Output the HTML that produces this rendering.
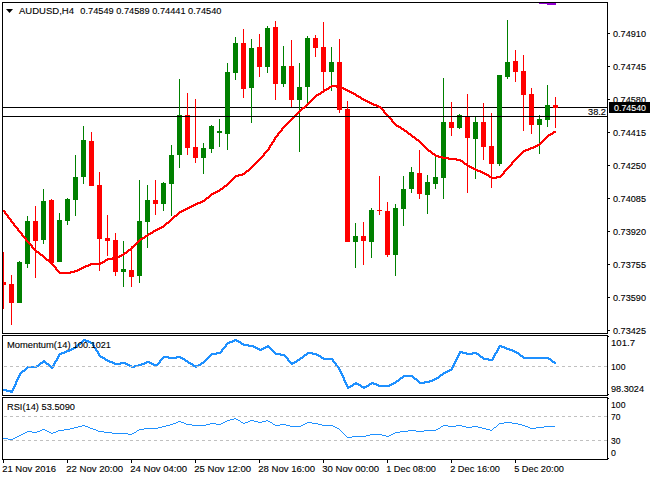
<!DOCTYPE html>
<html><head><meta charset="utf-8"><title>AUDUSD,H4</title>
<style>
html,body{margin:0;padding:0;background:#fff;}
body{width:650px;height:480px;overflow:hidden;}
svg{display:block;}
text{font-family:"Liberation Sans", sans-serif;fill:#000;stroke:#000;stroke-width:0.12px;}
</style></head><body>
<svg width="650" height="480" viewBox="0 0 650 480">
<rect x="0" y="0" width="650" height="480" fill="#ffffff"/>
<g fill="#000" shape-rendering="crispEdges">
<rect x="2" y="2" width="1" height="332"/>
<rect x="607" y="2" width="1" height="332"/>
<rect x="2" y="2" width="606" height="1"/>
<rect x="2" y="333" width="606" height="1"/>
<rect x="2" y="335" width="1" height="61"/>
<rect x="607" y="335" width="1" height="61"/>
<rect x="2" y="335" width="606" height="1"/>
<rect x="2" y="395" width="606" height="1"/>
<rect x="2" y="397" width="1" height="63"/>
<rect x="607" y="397" width="1" height="63"/>
<rect x="2" y="397" width="606" height="1"/>
<rect x="2" y="459" width="606" height="1"/>
<rect x="608" y="336" width="1" height="1"/>
<rect x="608" y="394" width="1" height="1"/>
<rect x="608" y="398" width="1" height="1"/>
<rect x="608" y="458" width="1" height="1"/>
<rect x="3" y="107" width="604" height="1"/>
<rect x="608" y="33" width="2" height="1"/>
<rect x="608" y="66" width="2" height="1"/>
<rect x="608" y="99" width="2" height="1"/>
<rect x="608" y="132" width="2" height="1"/>
<rect x="608" y="165" width="2" height="1"/>
<rect x="608" y="198" width="2" height="1"/>
<rect x="608" y="231" width="2" height="1"/>
<rect x="608" y="264" width="2" height="1"/>
<rect x="608" y="297" width="2" height="1"/>
<rect x="608" y="330" width="2" height="1"/>
<rect x="3" y="460" width="1" height="3"/>
<rect x="67" y="460" width="1" height="3"/>
<rect x="131" y="460" width="1" height="3"/>
<rect x="195" y="460" width="1" height="3"/>
<rect x="259" y="460" width="1" height="3"/>
<rect x="323" y="460" width="1" height="3"/>
<rect x="387" y="460" width="1" height="3"/>
<rect x="451" y="460" width="1" height="3"/>
<rect x="515" y="460" width="1" height="3"/>
</g>
<g shape-rendering="crispEdges">
<rect x="3" y="252" width="1" height="57" fill="#ff0000"/>
<rect x="3" y="282" width="3" height="3" fill="#ff0000"/>
<rect x="11" y="275" width="1" height="50" fill="#ff0000"/>
<rect x="9" y="284" width="5" height="19" fill="#ff0000"/>
<rect x="19" y="261" width="1" height="42" fill="#008000"/>
<rect x="17" y="262" width="5" height="41" fill="#008000"/>
<rect x="27" y="216" width="1" height="52" fill="#008000"/>
<rect x="25" y="221" width="5" height="43" fill="#008000"/>
<rect x="35" y="206" width="1" height="72" fill="#ff0000"/>
<rect x="33" y="221" width="5" height="20" fill="#ff0000"/>
<rect x="43" y="189" width="1" height="55" fill="#008000"/>
<rect x="41" y="201" width="5" height="39" fill="#008000"/>
<rect x="51" y="199" width="1" height="66" fill="#ff0000"/>
<rect x="49" y="200" width="5" height="63" fill="#ff0000"/>
<rect x="59" y="213" width="1" height="49" fill="#008000"/>
<rect x="57" y="220" width="5" height="42" fill="#008000"/>
<rect x="67" y="198" width="1" height="27" fill="#008000"/>
<rect x="65" y="199" width="5" height="22" fill="#008000"/>
<rect x="75" y="155" width="1" height="61" fill="#008000"/>
<rect x="73" y="177" width="5" height="23" fill="#008000"/>
<rect x="83" y="126" width="1" height="58" fill="#008000"/>
<rect x="81" y="140" width="5" height="37" fill="#008000"/>
<rect x="91" y="132" width="1" height="54" fill="#ff0000"/>
<rect x="89" y="141" width="5" height="45" fill="#ff0000"/>
<rect x="99" y="172" width="1" height="99" fill="#ff0000"/>
<rect x="97" y="185" width="5" height="54" fill="#ff0000"/>
<rect x="107" y="215" width="1" height="41" fill="#ff0000"/>
<rect x="105" y="238" width="5" height="3" fill="#ff0000"/>
<rect x="115" y="233" width="1" height="43" fill="#ff0000"/>
<rect x="113" y="240" width="5" height="32" fill="#ff0000"/>
<rect x="123" y="241" width="1" height="46" fill="#008000"/>
<rect x="121" y="269" width="5" height="3" fill="#008000"/>
<rect x="131" y="246" width="1" height="41" fill="#ff0000"/>
<rect x="129" y="270" width="5" height="7" fill="#ff0000"/>
<rect x="139" y="180" width="1" height="103" fill="#008000"/>
<rect x="137" y="221" width="5" height="55" fill="#008000"/>
<rect x="147" y="185" width="1" height="63" fill="#008000"/>
<rect x="145" y="200" width="5" height="22" fill="#008000"/>
<rect x="155" y="180" width="1" height="35" fill="#ff0000"/>
<rect x="153" y="200" width="5" height="4" fill="#ff0000"/>
<rect x="163" y="182" width="1" height="29" fill="#008000"/>
<rect x="161" y="183" width="5" height="21" fill="#008000"/>
<rect x="171" y="145" width="1" height="71" fill="#008000"/>
<rect x="169" y="155" width="5" height="29" fill="#008000"/>
<rect x="179" y="79" width="1" height="89" fill="#008000"/>
<rect x="177" y="115" width="5" height="40" fill="#008000"/>
<rect x="187" y="93" width="1" height="62" fill="#ff0000"/>
<rect x="185" y="115" width="5" height="33" fill="#ff0000"/>
<rect x="195" y="99" width="1" height="64" fill="#ff0000"/>
<rect x="193" y="147" width="5" height="11" fill="#ff0000"/>
<rect x="203" y="143" width="1" height="31" fill="#008000"/>
<rect x="201" y="148" width="5" height="10" fill="#008000"/>
<rect x="211" y="125" width="1" height="28" fill="#008000"/>
<rect x="209" y="126" width="5" height="23" fill="#008000"/>
<rect x="219" y="119" width="1" height="28" fill="#008000"/>
<rect x="217" y="131" width="5" height="2" fill="#008000"/>
<rect x="227" y="63" width="1" height="87" fill="#008000"/>
<rect x="225" y="72" width="5" height="62" fill="#008000"/>
<rect x="235" y="37" width="1" height="43" fill="#008000"/>
<rect x="233" y="43" width="5" height="30" fill="#008000"/>
<rect x="243" y="29" width="1" height="69" fill="#ff0000"/>
<rect x="241" y="43" width="5" height="46" fill="#ff0000"/>
<rect x="251" y="39" width="1" height="84" fill="#008000"/>
<rect x="249" y="48" width="5" height="40" fill="#008000"/>
<rect x="259" y="34" width="1" height="43" fill="#ff0000"/>
<rect x="257" y="47" width="5" height="20" fill="#ff0000"/>
<rect x="267" y="26" width="1" height="47" fill="#008000"/>
<rect x="265" y="28" width="5" height="39" fill="#008000"/>
<rect x="275" y="21" width="1" height="79" fill="#ff0000"/>
<rect x="273" y="27" width="5" height="57" fill="#ff0000"/>
<rect x="283" y="46" width="1" height="41" fill="#008000"/>
<rect x="281" y="66" width="5" height="18" fill="#008000"/>
<rect x="291" y="40" width="1" height="67" fill="#ff0000"/>
<rect x="289" y="66" width="5" height="34" fill="#ff0000"/>
<rect x="299" y="63" width="1" height="89" fill="#008000"/>
<rect x="297" y="87" width="5" height="13" fill="#008000"/>
<rect x="307" y="36" width="1" height="68" fill="#008000"/>
<rect x="305" y="38" width="5" height="49" fill="#008000"/>
<rect x="315" y="35" width="1" height="22" fill="#ff0000"/>
<rect x="313" y="38" width="5" height="10" fill="#ff0000"/>
<rect x="323" y="22" width="1" height="68" fill="#ff0000"/>
<rect x="321" y="47" width="5" height="25" fill="#ff0000"/>
<rect x="331" y="47" width="1" height="44" fill="#008000"/>
<rect x="329" y="62" width="5" height="10" fill="#008000"/>
<rect x="339" y="39" width="1" height="74" fill="#ff0000"/>
<rect x="337" y="62" width="5" height="48" fill="#ff0000"/>
<rect x="347" y="101" width="1" height="141" fill="#ff0000"/>
<rect x="345" y="109" width="5" height="133" fill="#ff0000"/>
<rect x="355" y="223" width="1" height="45" fill="#008000"/>
<rect x="353" y="236" width="5" height="6" fill="#008000"/>
<rect x="363" y="222" width="1" height="43" fill="#ff0000"/>
<rect x="361" y="236" width="5" height="5" fill="#ff0000"/>
<rect x="371" y="208" width="1" height="50" fill="#008000"/>
<rect x="369" y="210" width="5" height="32" fill="#008000"/>
<rect x="379" y="176" width="1" height="39" fill="#ff0000"/>
<rect x="377" y="210" width="5" height="1" fill="#ff0000"/>
<rect x="387" y="202" width="1" height="55" fill="#ff0000"/>
<rect x="385" y="211" width="5" height="44" fill="#ff0000"/>
<rect x="395" y="204" width="1" height="72" fill="#008000"/>
<rect x="393" y="208" width="5" height="47" fill="#008000"/>
<rect x="403" y="176" width="1" height="50" fill="#008000"/>
<rect x="401" y="189" width="5" height="20" fill="#008000"/>
<rect x="411" y="167" width="1" height="26" fill="#008000"/>
<rect x="409" y="172" width="5" height="17" fill="#008000"/>
<rect x="419" y="150" width="1" height="49" fill="#ff0000"/>
<rect x="417" y="173" width="5" height="21" fill="#ff0000"/>
<rect x="427" y="175" width="1" height="39" fill="#008000"/>
<rect x="425" y="182" width="5" height="13" fill="#008000"/>
<rect x="435" y="157" width="1" height="32" fill="#008000"/>
<rect x="433" y="177" width="5" height="7" fill="#008000"/>
<rect x="443" y="78" width="1" height="121" fill="#008000"/>
<rect x="441" y="122" width="5" height="56" fill="#008000"/>
<rect x="451" y="102" width="1" height="34" fill="#ff0000"/>
<rect x="449" y="122" width="5" height="6" fill="#ff0000"/>
<rect x="459" y="114" width="1" height="15" fill="#008000"/>
<rect x="457" y="115" width="5" height="13" fill="#008000"/>
<rect x="467" y="94" width="1" height="99" fill="#ff0000"/>
<rect x="465" y="117" width="5" height="21" fill="#ff0000"/>
<rect x="475" y="117" width="1" height="62" fill="#008000"/>
<rect x="473" y="122" width="5" height="17" fill="#008000"/>
<rect x="483" y="103" width="1" height="57" fill="#ff0000"/>
<rect x="481" y="122" width="5" height="25" fill="#ff0000"/>
<rect x="491" y="113" width="1" height="75" fill="#ff0000"/>
<rect x="489" y="146" width="5" height="18" fill="#ff0000"/>
<rect x="499" y="75" width="1" height="91" fill="#008000"/>
<rect x="497" y="75" width="5" height="89" fill="#008000"/>
<rect x="507" y="20" width="1" height="59" fill="#008000"/>
<rect x="505" y="62" width="5" height="15" fill="#008000"/>
<rect x="515" y="50" width="1" height="32" fill="#ff0000"/>
<rect x="513" y="61" width="5" height="11" fill="#ff0000"/>
<rect x="523" y="55" width="1" height="76" fill="#ff0000"/>
<rect x="521" y="71" width="5" height="24" fill="#ff0000"/>
<rect x="531" y="88" width="1" height="46" fill="#ff0000"/>
<rect x="529" y="94" width="5" height="31" fill="#ff0000"/>
<rect x="539" y="115" width="1" height="39" fill="#008000"/>
<rect x="537" y="119" width="5" height="6" fill="#008000"/>
<rect x="547" y="85" width="1" height="42" fill="#008000"/>
<rect x="545" y="105" width="5" height="15" fill="#008000"/>
<rect x="555" y="97" width="1" height="31" fill="#ff0000"/>
<rect x="553" y="105" width="5" height="3" fill="#ff0000"/>
</g>
<path d="M3 210h2v2h-2zm1 1h2v2h-2zm0 1h2v2h-2zm1 1h2v2h-2zm1 1h2v2h-2zm1 1h2v2h-2zm0 1h2v2h-2zm1 1h2v2h-2zm1 1h2v2h-2zm1 1h2v2h-2zm0 1h2v2h-2zm1 1h2v2h-2zm1 1h2v2h-2zm1 1h2v2h-2zm0 1h2v2h-2zm1 1h2v2h-2zm1 1h2v2h-2zm1 1h2v2h-2zm1 1h2v2h-2zm0 1h2v2h-2zm1 1h2v2h-2zm1 1h2v2h-2zm1 1h2v2h-2zm1 1h2v2h-2zm0 1h2v2h-2zm1 1h2v2h-2zm1 1h2v2h-2zm1 1h2v2h-2zm1 1h2v2h-2zm0 1h2v2h-2zm1 1h2v2h-2zm1 1h2v2h-2zm1 1h2v2h-2zm1 1h2v2h-2zm1 1h2v2h-2zm1 1h2v2h-2zm0 1h2v2h-2zm1 1h2v2h-2zm1 1h2v2h-2zm1 1h2v2h-2zm1 1h2v2h-2zm1 1h2v2h-2zm1 0h2v2h-2zm1 1h2v2h-2zm1 1h2v2h-2zm1 1h2v2h-2zm1 0h2v2h-2zm1 1h2v2h-2zm1 1h2v2h-2zm1 1h2v2h-2zm1 1h2v2h-2zm1 1h2v2h-2zm1 0h2v2h-2zm1 1h2v2h-2zm1 1h2v2h-2zm1 1h2v2h-2zm1 1h2v2h-2zm1 1h2v2h-2zm1 1h2v2h-2zm1 1h2v2h-2zm1 1h2v2h-2zm0 1h2v2h-2zm1 1h2v2h-2zm1 1h2v2h-2zm1 1h2v2h-2zm1 1h2v2h-2zm1 0h2v2h-2zm1 0h2v2h-2zm1 0h2v2h-2zm1 0h2v2h-2zm1 0h2v2h-2zm1 0h2v2h-2zm1 0h2v2h-2zm1 0h2v2h-2zm1 0h2v2h-2zm1 0h2v2h-2zm1 -1h2v2h-2zm1 0h2v2h-2zm1 0h2v2h-2zm1 0h2v2h-2zm1 -1h2v2h-2zm1 0h2v2h-2zm1 0h2v2h-2zm1 -1h2v2h-2zm1 0h2v2h-2zm1 -1h2v2h-2zm1 0h2v2h-2zm1 -1h2v2h-2zm1 0h2v2h-2zm1 -1h2v2h-2zm1 0h2v2h-2zm1 -1h2v2h-2zm1 0h2v2h-2zm1 0h2v2h-2zm1 -1h2v2h-2zm1 0h2v2h-2zm1 -1h2v2h-2zm1 0h2v2h-2zm1 0h2v2h-2zm1 0h2v2h-2zm1 0h2v2h-2zm1 0h2v2h-2zm1 0h2v2h-2zm1 0h2v2h-2zm1 0h2v2h-2zm1 0h2v2h-2zm1 -1h2v2h-2zm1 0h2v2h-2zm1 -1h2v2h-2zm1 0h2v2h-2zm1 -1h2v2h-2zm1 -1h2v2h-2zm1 0h2v2h-2zm1 -1h2v2h-2zm1 0h2v2h-2zm1 0h2v2h-2zm1 0h2v2h-2zm1 0h2v2h-2zm1 -1h2v2h-2zm1 0h2v2h-2zm1 0h2v2h-2zm1 0h2v2h-2zm1 0h2v2h-2zm1 -1h2v2h-2zm1 0h2v2h-2zm1 -1h2v2h-2zm1 0h2v2h-2zm1 -1h2v2h-2zm1 0h2v2h-2zm1 -1h2v2h-2zm1 -1h2v2h-2zm1 0h2v2h-2zm1 -1h2v2h-2zm1 -1h2v2h-2zm1 -1h2v2h-2zm1 0h2v2h-2zm1 -1h2v2h-2zm1 -1h2v2h-2zm1 -1h2v2h-2zm1 -1h2v2h-2zm1 -1h2v2h-2zm1 -1h2v2h-2zm1 -1h2v2h-2zm1 -1h2v2h-2zm1 -1h2v2h-2zm1 -1h2v2h-2zm1 -1h2v2h-2zm1 0h2v2h-2zm1 -1h2v2h-2zm1 0h2v2h-2zm1 -1h2v2h-2zm1 -1h2v2h-2zm1 0h2v2h-2zm1 -1h2v2h-2zm1 -1h2v2h-2zm1 0h2v2h-2zm1 -1h2v2h-2zm1 0h2v2h-2zm1 -1h2v2h-2zm1 -1h2v2h-2zm1 0h2v2h-2zm1 -1h2v2h-2zm1 0h2v2h-2zm1 -1h2v2h-2zm1 0h2v2h-2zm1 -1h2v2h-2zm1 0h2v2h-2zm1 -1h2v2h-2zm1 0h2v2h-2zm1 -1h2v2h-2zm1 -1h2v2h-2zm1 -1h2v2h-2zm1 -1h2v2h-2zm1 0h2v2h-2zm1 -1h2v2h-2zm1 -1h2v2h-2zm1 -1h2v2h-2zm1 -1h2v2h-2zm1 -1h2v2h-2zm1 -1h2v2h-2zm1 -1h2v2h-2zm1 0h2v2h-2zm1 -1h2v2h-2zm1 -1h2v2h-2zm1 -1h2v2h-2zm1 -1h2v2h-2zm1 0h2v2h-2zm1 -1h2v2h-2zm1 0h2v2h-2zm1 -1h2v2h-2zm1 0h2v2h-2zm1 -1h2v2h-2zm1 0h2v2h-2zm1 -1h2v2h-2zm1 0h2v2h-2zm1 -1h2v2h-2zm1 0h2v2h-2zm1 -1h2v2h-2zm1 0h2v2h-2zm1 -1h2v2h-2zm1 0h2v2h-2zm1 -1h2v2h-2zm1 0h2v2h-2zm1 -1h2v2h-2zm1 0h2v2h-2zm1 0h2v2h-2zm1 -1h2v2h-2zm1 0h2v2h-2zm1 -1h2v2h-2zm1 0h2v2h-2zm1 -1h2v2h-2zm1 -1h2v2h-2zm1 -1h2v2h-2zm1 0h2v2h-2zm1 -1h2v2h-2zm1 -1h2v2h-2zm1 -1h2v2h-2zm1 -1h2v2h-2zm1 0h2v2h-2zm1 -1h2v2h-2zm1 0h2v2h-2zm1 -1h2v2h-2zm1 0h2v2h-2zm1 -1h2v2h-2zm1 0h2v2h-2zm1 -1h2v2h-2zm1 -1h2v2h-2zm1 0h2v2h-2zm1 -1h2v2h-2zm1 -1h2v2h-2zm1 -1h2v2h-2zm1 0h2v2h-2zm1 -1h2v2h-2zm1 -1h2v2h-2zm1 -1h2v2h-2zm1 -1h2v2h-2zm1 -1h2v2h-2zm1 -1h2v2h-2zm1 -1h2v2h-2zm1 -1h2v2h-2zm1 -1h2v2h-2zm1 -1h2v2h-2zm1 0h2v2h-2zm1 0h2v2h-2zm1 -1h2v2h-2zm1 0h2v2h-2zm1 0h2v2h-2zm1 0h2v2h-2zm1 -1h2v2h-2zm1 0h2v2h-2zm1 -1h2v2h-2zm1 -1h2v2h-2zm1 -1h2v2h-2zm1 0h2v2h-2zm1 -1h2v2h-2zm1 -1h2v2h-2zm1 -1h2v2h-2zm1 -1h2v2h-2zm1 -1h2v2h-2zm1 -1h2v2h-2zm1 -1h2v2h-2zm1 -1h2v2h-2zm1 -1h2v2h-2zm1 -1h2v2h-2zm1 -1h2v2h-2zm1 -1h2v2h-2zm1 -1h2v2h-2zm1 -1h2v2h-2zm1 -1h2v2h-2zm1 -1h2v2h-2zm0 -1h2v2h-2zm1 -1h2v2h-2zm1 -1h2v2h-2zm1 -1h2v2h-2zm1 -1h2v2h-2zm1 -1h2v2h-2zm0 -1h2v2h-2zm1 -1h2v2h-2zm0 -1h2v2h-2zm1 -1h2v2h-2zm1 -1h2v2h-2zm0 -1h2v2h-2zm1 -1h2v2h-2zm1 -1h2v2h-2zm0 -1h2v2h-2zm1 -1h2v2h-2zm0 -1h2v2h-2zm1 -1h2v2h-2zm1 -1h2v2h-2zm1 -1h2v2h-2zm0 -1h2v2h-2zm1 -1h2v2h-2zm1 -1h2v2h-2zm1 -1h2v2h-2zm1 -1h2v2h-2zm0 -1h2v2h-2zm1 -1h2v2h-2zm1 -1h2v2h-2zm1 -1h2v2h-2zm1 -1h2v2h-2zm1 -1h2v2h-2zm1 -1h2v2h-2zm1 -1h2v2h-2zm1 -1h2v2h-2zm1 -1h2v2h-2zm1 -1h2v2h-2zm1 -1h2v2h-2zm1 -1h2v2h-2zm1 -1h2v2h-2zm1 -1h2v2h-2zm1 -1h2v2h-2zm1 -1h2v2h-2zm1 -1h2v2h-2zm1 -1h2v2h-2zm1 -1h2v2h-2zm1 -1h2v2h-2zm1 -1h2v2h-2zm1 0h2v2h-2zm1 -1h2v2h-2zm1 -1h2v2h-2zm1 -1h2v2h-2zm1 -1h2v2h-2zm1 -1h2v2h-2zm1 -1h2v2h-2zm1 -1h2v2h-2zm1 -1h2v2h-2zm1 -1h2v2h-2zm1 -1h2v2h-2zm1 -1h2v2h-2zm1 -1h2v2h-2zm1 -1h2v2h-2zm1 0h2v2h-2zm1 -1h2v2h-2zm1 0h2v2h-2zm1 -1h2v2h-2zm1 -1h2v2h-2zm1 0h2v2h-2zm1 -1h2v2h-2zm1 -1h2v2h-2zm1 0h2v2h-2zm1 -1h2v2h-2zm1 0h2v2h-2zm1 -1h2v2h-2zm1 -1h2v2h-2zm1 0h2v2h-2zm1 -1h2v2h-2zm1 0h2v2h-2zm1 0h2v2h-2zm1 0h2v2h-2zm1 0h2v2h-2zm1 1h2v2h-2zm1 0h2v2h-2zm1 0h2v2h-2zm1 0h2v2h-2zm1 0h2v2h-2zm1 1h2v2h-2zm1 0h2v2h-2zm1 1h2v2h-2zm1 0h2v2h-2zm1 1h2v2h-2zm1 0h2v2h-2zm1 1h2v2h-2zm1 0h2v2h-2zm1 1h2v2h-2zm1 0h2v2h-2zm1 1h2v2h-2zm1 0h2v2h-2zm1 1h2v2h-2zm1 0h2v2h-2zm1 1h2v2h-2zm1 1h2v2h-2zm1 0h2v2h-2zm1 1h2v2h-2zm1 0h2v2h-2zm1 1h2v2h-2zm1 1h2v2h-2zm1 0h2v2h-2zm1 1h2v2h-2zm1 0h2v2h-2zm1 1h2v2h-2zm1 0h2v2h-2zm1 1h2v2h-2zm1 0h2v2h-2zm1 1h2v2h-2zm1 0h2v2h-2zm1 1h2v2h-2zm1 0h2v2h-2zm1 1h2v2h-2zm1 0h2v2h-2zm1 0h2v2h-2zm1 1h2v2h-2zm1 0h2v2h-2zm1 1h2v2h-2zm1 0h2v2h-2zm1 1h2v2h-2zm1 1h2v2h-2zm1 1h2v2h-2zm1 1h2v2h-2zm0 1h2v2h-2zm1 1h2v2h-2zm1 1h2v2h-2zm1 1h2v2h-2zm1 1h2v2h-2zm1 1h2v2h-2zm1 1h2v2h-2zm1 1h2v2h-2zm1 1h2v2h-2zm0 1h2v2h-2zm1 1h2v2h-2zm1 1h2v2h-2zm1 1h2v2h-2zm1 1h2v2h-2zm1 1h2v2h-2zm1 0h2v2h-2zm1 1h2v2h-2zm1 0h2v2h-2zm1 1h2v2h-2zm1 1h2v2h-2zm1 0h2v2h-2zm1 1h2v2h-2zm1 1h2v2h-2zm1 0h2v2h-2zm1 1h2v2h-2zm1 1h2v2h-2zm1 1h2v2h-2zm1 0h2v2h-2zm1 1h2v2h-2zm1 1h2v2h-2zm1 1h2v2h-2zm1 0h2v2h-2zm1 1h2v2h-2zm1 1h2v2h-2zm1 1h2v2h-2zm1 0h2v2h-2zm1 1h2v2h-2zm1 1h2v2h-2zm1 1h2v2h-2zm1 1h2v2h-2zm1 1h2v2h-2zm1 1h2v2h-2zm1 1h2v2h-2zm1 1h2v2h-2zm1 1h2v2h-2zm1 1h2v2h-2zm1 1h2v2h-2zm1 0h2v2h-2zm1 1h2v2h-2zm1 1h2v2h-2zm1 1h2v2h-2zm1 0h2v2h-2zm1 1h2v2h-2zm1 1h2v2h-2zm1 0h2v2h-2zm1 0h2v2h-2zm1 1h2v2h-2zm1 0h2v2h-2zm1 0h2v2h-2zm1 0h2v2h-2zm1 1h2v2h-2zm1 0h2v2h-2zm1 0h2v2h-2zm1 0h2v2h-2zm1 0h2v2h-2zm1 0h2v2h-2zm1 1h2v2h-2zm1 0h2v2h-2zm1 0h2v2h-2zm1 0h2v2h-2zm1 0h2v2h-2zm1 0h2v2h-2zm1 0h2v2h-2zm1 0h2v2h-2zm1 1h2v2h-2zm1 0h2v2h-2zm1 0h2v2h-2zm1 0h2v2h-2zm1 1h2v2h-2zm1 0h2v2h-2zm1 1h2v2h-2zm1 1h2v2h-2zm1 1h2v2h-2zm1 0h2v2h-2zm1 1h2v2h-2zm1 1h2v2h-2zm1 0h2v2h-2zm1 1h2v2h-2zm1 0h2v2h-2zm1 1h2v2h-2zm1 0h2v2h-2zm1 1h2v2h-2zm1 0h2v2h-2zm1 1h2v2h-2zm1 0h2v2h-2zm1 1h2v2h-2zm1 0h2v2h-2zm1 0h2v2h-2zm1 1h2v2h-2zm1 0h2v2h-2zm1 1h2v2h-2zm1 0h2v2h-2zm1 1h2v2h-2zm1 0h2v2h-2zm1 1h2v2h-2zm1 0h2v2h-2zm1 1h2v2h-2zm1 1h2v2h-2zm1 0h2v2h-2zm1 1h2v2h-2zm1 0h2v2h-2zm1 0h2v2h-2zm1 0h2v2h-2zm1 0h2v2h-2zm1 -1h2v2h-2zm1 0h2v2h-2zm1 0h2v2h-2zm1 0h2v2h-2zm1 -1h2v2h-2zm1 -1h2v2h-2zm1 -1h2v2h-2zm1 -1h2v2h-2zm0 -1h2v2h-2zm1 -1h2v2h-2zm1 -1h2v2h-2zm1 -1h2v2h-2zm1 -1h2v2h-2zm1 -1h2v2h-2zm1 -1h2v2h-2zm1 -1h2v2h-2zm1 -1h2v2h-2zm0 -1h2v2h-2zm1 -1h2v2h-2zm1 -1h2v2h-2zm1 -1h2v2h-2zm1 -1h2v2h-2zm1 -1h2v2h-2zm1 -1h2v2h-2zm1 -1h2v2h-2zm1 -1h2v2h-2zm1 -1h2v2h-2zm1 -1h2v2h-2zm1 -1h2v2h-2zm1 -1h2v2h-2zm1 0h2v2h-2zm1 -1h2v2h-2zm1 0h2v2h-2zm1 0h2v2h-2zm1 -1h2v2h-2zm1 0h2v2h-2zm1 -1h2v2h-2zm1 0h2v2h-2zm1 0h2v2h-2zm1 -1h2v2h-2zm1 0h2v2h-2zm1 -1h2v2h-2zm1 0h2v2h-2zm1 -1h2v2h-2zm1 0h2v2h-2zm1 -1h2v2h-2zm1 -1h2v2h-2zm1 -1h2v2h-2zm1 -1h2v2h-2zm1 -1h2v2h-2zm1 -1h2v2h-2zm1 -1h2v2h-2zm1 -1h2v2h-2zm1 -1h2v2h-2zm1 -1h2v2h-2zm1 0h2v2h-2zm1 -1h2v2h-2zm1 0h2v2h-2zm1 -1h2v2h-2zm1 -1h2v2h-2zm1 0h2v2h-2z" fill="#ff0000" shape-rendering="crispEdges"/>
<rect x="3" y="116" width="604" height="1" fill="#000" shape-rendering="crispEdges"/>
<path d="M3 389h2v2h-2zm1 0h2v2h-2zm1 0h2v2h-2zm1 1h2v2h-2zm1 0h2v2h-2zm1 0h2v2h-2zm1 0h2v2h-2zm1 1h2v2h-2zm1 0h2v2h-2zm0 -1h2v2h-2zm1 -1h2v2h-2zm0 -1h2v2h-2zm1 -1h2v2h-2zm0 -1h2v2h-2zm1 -1h2v2h-2zm0 -1h2v2h-2zm1 -1h2v2h-2zm0 -1h2v2h-2zm0 -1h2v2h-2zm1 -1h2v2h-2zm0 -1h2v2h-2zm1 -1h2v2h-2zm0 -1h2v2h-2zm1 -1h2v2h-2zm0 -1h2v2h-2zm1 -1h2v2h-2zm0 -1h2v2h-2zm1 -1h2v2h-2zm1 -1h2v2h-2zm1 -1h2v2h-2zm1 0h2v2h-2zm1 -1h2v2h-2zm1 -1h2v2h-2zm1 -1h2v2h-2zm1 -1h2v2h-2zm1 0h2v2h-2zm1 0h2v2h-2zm1 0h2v2h-2zm1 0h2v2h-2zm1 0h2v2h-2zm1 0h2v2h-2zm1 0h2v2h-2zm1 0h2v2h-2zm1 -1h2v2h-2zm1 0h2v2h-2zm1 -1h2v2h-2zm1 -1h2v2h-2zm1 -1h2v2h-2zm1 0h2v2h-2zm1 -1h2v2h-2zm1 -1h2v2h-2zm1 1h2v2h-2zm1 1h2v2h-2zm1 1h2v2h-2zm1 0h2v2h-2zm1 1h2v2h-2zm1 1h2v2h-2zm1 1h2v2h-2zm1 1h2v2h-2zm1 -1h2v2h-2zm0 -1h2v2h-2zm1 -1h2v2h-2zm0 -1h2v2h-2zm1 -1h2v2h-2zm0 -1h2v2h-2zm1 -1h2v2h-2zm1 -1h2v2h-2zm0 -1h2v2h-2zm1 -1h2v2h-2zm0 -1h2v2h-2zm1 -1h2v2h-2zm0 -1h2v2h-2zm1 -1h2v2h-2zm1 0h2v2h-2zm1 -1h2v2h-2zm1 0h2v2h-2zm1 0h2v2h-2zm1 -1h2v2h-2zm1 0h2v2h-2zm1 -1h2v2h-2zm1 0h2v2h-2zm1 0h2v2h-2zm1 -1h2v2h-2zm1 0h2v2h-2zm1 -1h2v2h-2zm1 0h2v2h-2zm1 -1h2v2h-2zm1 0h2v2h-2zm1 -1h2v2h-2zm1 -1h2v2h-2zm1 -1h2v2h-2zm1 -1h2v2h-2zm1 0h2v2h-2zm1 -1h2v2h-2zm1 -1h2v2h-2zm1 -1h2v2h-2zm1 -1h2v2h-2zm1 0h2v2h-2zm1 1h2v2h-2zm1 0h2v2h-2zm1 0h2v2h-2zm1 1h2v2h-2zm1 0h2v2h-2zm1 1h2v2h-2zm1 0h2v2h-2zm1 1h2v2h-2zm0 1h2v2h-2zm1 1h2v2h-2zm0 1h2v2h-2zm1 1h2v2h-2zm1 1h2v2h-2zm0 1h2v2h-2zm1 1h2v2h-2zm1 1h2v2h-2zm0 1h2v2h-2zm1 1h2v2h-2zm0 1h2v2h-2zm1 1h2v2h-2zm1 1h2v2h-2zm1 0h2v2h-2zm1 1h2v2h-2zm1 0h2v2h-2zm1 1h2v2h-2zm1 1h2v2h-2zm1 0h2v2h-2zm1 1h2v2h-2zm1 0h2v2h-2zm1 1h2v2h-2zm1 0h2v2h-2zm1 0h2v2h-2zm1 1h2v2h-2zm1 0h2v2h-2zm1 1h2v2h-2zm1 0h2v2h-2zm1 0h2v2h-2zm1 0h2v2h-2zm1 0h2v2h-2zm1 0h2v2h-2zm1 -1h2v2h-2zm1 0h2v2h-2zm1 0h2v2h-2zm1 0h2v2h-2zm1 0h2v2h-2zm1 1h2v2h-2zm1 0h2v2h-2zm1 1h2v2h-2zm1 0h2v2h-2zm1 1h2v2h-2zm1 0h2v2h-2zm1 1h2v2h-2zm1 0h2v2h-2zm1 0h2v2h-2zm1 -1h2v2h-2zm1 0h2v2h-2zm1 0h2v2h-2zm1 0h2v2h-2zm1 -1h2v2h-2zm1 0h2v2h-2zm1 0h2v2h-2zm1 -1h2v2h-2zm1 0h2v2h-2zm1 0h2v2h-2zm1 -1h2v2h-2zm1 0h2v2h-2zm1 -1h2v2h-2zm1 0h2v2h-2zm1 0h2v2h-2zm1 1h2v2h-2zm1 0h2v2h-2zm1 1h2v2h-2zm1 0h2v2h-2zm1 1h2v2h-2zm1 0h2v2h-2zm1 1h2v2h-2zm1 -1h2v2h-2zm1 -1h2v2h-2zm1 -1h2v2h-2zm1 -1h2v2h-2zm0 -1h2v2h-2zm1 -1h2v2h-2zm1 -1h2v2h-2zm1 -1h2v2h-2zm1 -1h2v2h-2zm1 0h2v2h-2zm1 0h2v2h-2zm1 0h2v2h-2zm1 0h2v2h-2zm1 1h2v2h-2zm1 0h2v2h-2zm1 0h2v2h-2zm1 0h2v2h-2zm1 0h2v2h-2zm1 0h2v2h-2zm1 0h2v2h-2zm1 0h2v2h-2zm1 -1h2v2h-2zm1 0h2v2h-2zm1 0h2v2h-2zm1 0h2v2h-2zm1 1h2v2h-2zm1 0h2v2h-2zm1 1h2v2h-2zm1 0h2v2h-2zm1 1h2v2h-2zm1 1h2v2h-2zm1 0h2v2h-2zm1 1h2v2h-2zm1 1h2v2h-2zm1 0h2v2h-2zm1 1h2v2h-2zm1 0h2v2h-2zm1 1h2v2h-2zm1 1h2v2h-2zm1 0h2v2h-2zm1 1h2v2h-2zm1 -1h2v2h-2zm1 0h2v2h-2zm1 -1h2v2h-2zm1 0h2v2h-2zm1 -1h2v2h-2zm1 -1h2v2h-2zm1 0h2v2h-2zm1 -1h2v2h-2zm1 -1h2v2h-2zm1 -1h2v2h-2zm1 -1h2v2h-2zm1 -1h2v2h-2zm1 -1h2v2h-2zm1 -1h2v2h-2zm1 -1h2v2h-2zm1 -1h2v2h-2zm1 0h2v2h-2zm1 0h2v2h-2zm1 0h2v2h-2zm1 0h2v2h-2zm1 -1h2v2h-2zm1 0h2v2h-2zm1 0h2v2h-2zm1 0h2v2h-2zm1 -1h2v2h-2zm1 -1h2v2h-2zm0 -1h2v2h-2zm1 -1h2v2h-2zm1 -1h2v2h-2zm1 -1h2v2h-2zm1 -1h2v2h-2zm0 -1h2v2h-2zm1 -1h2v2h-2zm1 -1h2v2h-2zm1 0h2v2h-2zm1 -1h2v2h-2zm1 0h2v2h-2zm1 0h2v2h-2zm1 -1h2v2h-2zm1 0h2v2h-2zm1 -1h2v2h-2zm1 0h2v2h-2zm1 1h2v2h-2zm1 0h2v2h-2zm1 1h2v2h-2zm1 0h2v2h-2zm1 1h2v2h-2zm1 1h2v2h-2zm1 0h2v2h-2zm1 1h2v2h-2zm1 0h2v2h-2zm1 0h2v2h-2zm1 0h2v2h-2zm1 0h2v2h-2zm1 1h2v2h-2zm1 0h2v2h-2zm1 0h2v2h-2zm1 0h2v2h-2zm1 0h2v2h-2zm1 1h2v2h-2zm1 0h2v2h-2zm1 1h2v2h-2zm1 0h2v2h-2zm1 1h2v2h-2zm1 0h2v2h-2zm1 1h2v2h-2zm1 0h2v2h-2zm1 -1h2v2h-2zm1 0h2v2h-2zm1 -1h2v2h-2zm1 0h2v2h-2zm1 -1h2v2h-2zm1 0h2v2h-2zm1 -1h2v2h-2zm1 1h2v2h-2zm1 1h2v2h-2zm1 1h2v2h-2zm1 1h2v2h-2zm1 1h2v2h-2zm1 1h2v2h-2zm1 1h2v2h-2zm1 1h2v2h-2zm1 0h2v2h-2zm1 0h2v2h-2zm1 0h2v2h-2zm1 0h2v2h-2zm1 1h2v2h-2zm1 0h2v2h-2zm1 0h2v2h-2zm1 0h2v2h-2zm1 1h2v2h-2zm1 1h2v2h-2zm1 1h2v2h-2zm1 1h2v2h-2zm0 1h2v2h-2zm1 1h2v2h-2zm1 1h2v2h-2zm1 1h2v2h-2zm1 1h2v2h-2zm1 -1h2v2h-2zm1 0h2v2h-2zm1 -1h2v2h-2zm1 0h2v2h-2zm1 -1h2v2h-2zm1 -1h2v2h-2zm1 0h2v2h-2zm1 -1h2v2h-2zm1 -1h2v2h-2zm1 0h2v2h-2zm1 -1h2v2h-2zm1 -1h2v2h-2zm1 -1h2v2h-2zm1 0h2v2h-2zm1 -1h2v2h-2zm1 -1h2v2h-2zm1 0h2v2h-2zm1 0h2v2h-2zm1 0h2v2h-2zm1 0h2v2h-2zm1 1h2v2h-2zm1 0h2v2h-2zm1 0h2v2h-2zm1 0h2v2h-2zm1 1h2v2h-2zm1 0h2v2h-2zm1 1h2v2h-2zm1 0h2v2h-2zm1 1h2v2h-2zm1 1h2v2h-2zm1 0h2v2h-2zm1 1h2v2h-2zm1 0h2v2h-2zm1 0h2v2h-2zm1 0h2v2h-2zm1 0h2v2h-2zm1 0h2v2h-2zm1 0h2v2h-2zm1 0h2v2h-2zm1 0h2v2h-2zm1 1h2v2h-2zm0 1h2v2h-2zm1 1h2v2h-2zm1 1h2v2h-2zm1 1h2v2h-2zm0 1h2v2h-2zm1 1h2v2h-2zm1 1h2v2h-2zm1 1h2v2h-2zm0 1h2v2h-2zm1 1h2v2h-2zm0 1h2v2h-2zm1 1h2v2h-2zm0 1h2v2h-2zm1 1h2v2h-2zm0 1h2v2h-2zm1 1h2v2h-2zm0 1h2v2h-2zm1 1h2v2h-2zm0 1h2v2h-2zm0 1h2v2h-2zm1 1h2v2h-2zm0 1h2v2h-2zm1 1h2v2h-2zm0 1h2v2h-2zm1 1h2v2h-2zm0 1h2v2h-2zm1 1h2v2h-2zm0 1h2v2h-2zm1 -1h2v2h-2zm1 0h2v2h-2zm1 -1h2v2h-2zm1 0h2v2h-2zm1 -1h2v2h-2zm1 -1h2v2h-2zm1 0h2v2h-2zm1 -1h2v2h-2zm1 1h2v2h-2zm1 0h2v2h-2zm1 1h2v2h-2zm1 0h2v2h-2zm1 1h2v2h-2zm1 1h2v2h-2zm1 0h2v2h-2zm1 1h2v2h-2zm1 -1h2v2h-2zm1 0h2v2h-2zm1 -1h2v2h-2zm1 0h2v2h-2zm1 -1h2v2h-2zm1 -1h2v2h-2zm1 0h2v2h-2zm1 -1h2v2h-2zm1 0h2v2h-2zm1 1h2v2h-2zm1 0h2v2h-2zm1 0h2v2h-2zm1 1h2v2h-2zm1 0h2v2h-2zm1 1h2v2h-2zm1 0h2v2h-2zm1 0h2v2h-2zm1 0h2v2h-2zm1 0h2v2h-2zm1 0h2v2h-2zm1 0h2v2h-2zm1 0h2v2h-2zm1 0h2v2h-2zm1 0h2v2h-2zm1 0h2v2h-2zm1 -1h2v2h-2zm1 0h2v2h-2zm1 -1h2v2h-2zm1 0h2v2h-2zm1 -1h2v2h-2zm1 0h2v2h-2zm1 -1h2v2h-2zm1 -1h2v2h-2zm1 0h2v2h-2zm1 -1h2v2h-2zm1 -1h2v2h-2zm1 -1h2v2h-2zm1 0h2v2h-2zm1 -1h2v2h-2zm1 -1h2v2h-2zm1 0h2v2h-2zm1 0h2v2h-2zm1 0h2v2h-2zm1 0h2v2h-2zm1 0h2v2h-2zm1 0h2v2h-2zm1 0h2v2h-2zm1 0h2v2h-2zm1 1h2v2h-2zm1 1h2v2h-2zm1 1h2v2h-2zm1 0h2v2h-2zm1 1h2v2h-2zm1 1h2v2h-2zm1 1h2v2h-2zm1 1h2v2h-2zm1 0h2v2h-2zm1 0h2v2h-2zm1 0h2v2h-2zm1 0h2v2h-2zm1 -1h2v2h-2zm1 0h2v2h-2zm1 0h2v2h-2zm1 0h2v2h-2zm1 0h2v2h-2zm1 -1h2v2h-2zm1 0h2v2h-2zm1 0h2v2h-2zm1 -1h2v2h-2zm1 0h2v2h-2zm1 -1h2v2h-2zm1 0h2v2h-2zm1 -1h2v2h-2zm1 0h2v2h-2zm1 -1h2v2h-2zm1 -1h2v2h-2zm1 -1h2v2h-2zm1 0h2v2h-2zm1 -1h2v2h-2zm1 -1h2v2h-2zm1 0h2v2h-2zm1 -1h2v2h-2zm1 0h2v2h-2zm1 -1h2v2h-2zm1 0h2v2h-2zm1 -1h2v2h-2zm1 0h2v2h-2zm1 -1h2v2h-2zm0 -1h2v2h-2zm1 -1h2v2h-2zm0 -1h2v2h-2zm1 -1h2v2h-2zm0 -1h2v2h-2zm1 -1h2v2h-2zm0 -1h2v2h-2zm1 -1h2v2h-2zm0 -1h2v2h-2zm1 -1h2v2h-2zm0 -1h2v2h-2zm1 -1h2v2h-2zm0 -1h2v2h-2zm1 -1h2v2h-2zm0 -1h2v2h-2zm1 -1h2v2h-2zm0 -1h2v2h-2zm1 0h2v2h-2zm1 0h2v2h-2zm1 1h2v2h-2zm1 0h2v2h-2zm1 0h2v2h-2zm1 0h2v2h-2zm1 1h2v2h-2zm1 0h2v2h-2zm1 0h2v2h-2zm1 0h2v2h-2zm1 0h2v2h-2zm1 0h2v2h-2zm1 -1h2v2h-2zm1 0h2v2h-2zm1 0h2v2h-2zm1 0h2v2h-2zm1 1h2v2h-2zm1 0h2v2h-2zm1 1h2v2h-2zm1 1h2v2h-2zm1 1h2v2h-2zm1 0h2v2h-2zm1 1h2v2h-2zm1 1h2v2h-2zm1 0h2v2h-2zm1 0h2v2h-2zm1 0h2v2h-2zm1 0h2v2h-2zm1 1h2v2h-2zm1 0h2v2h-2zm1 0h2v2h-2zm1 0h2v2h-2zm1 -1h2v2h-2zm0 -1h2v2h-2zm1 -1h2v2h-2zm0 -1h2v2h-2zm1 -1h2v2h-2zm0 -1h2v2h-2zm1 -1h2v2h-2zm1 -1h2v2h-2zm0 -1h2v2h-2zm1 -1h2v2h-2zm0 -1h2v2h-2zm1 -1h2v2h-2zm0 -1h2v2h-2zm1 -1h2v2h-2zm1 0h2v2h-2zm1 1h2v2h-2zm1 0h2v2h-2zm1 0h2v2h-2zm1 1h2v2h-2zm1 0h2v2h-2zm1 1h2v2h-2zm1 0h2v2h-2zm1 0h2v2h-2zm1 1h2v2h-2zm1 0h2v2h-2zm1 0h2v2h-2zm1 1h2v2h-2zm1 0h2v2h-2zm1 1h2v2h-2zm1 0h2v2h-2zm1 1h2v2h-2zm1 0h2v2h-2zm1 1h2v2h-2zm1 1h2v2h-2zm1 1h2v2h-2zm1 0h2v2h-2zm1 1h2v2h-2zm1 1h2v2h-2zm1 0h2v2h-2zm1 0h2v2h-2zm1 0h2v2h-2zm1 0h2v2h-2zm1 0h2v2h-2zm1 0h2v2h-2zm1 0h2v2h-2zm1 0h2v2h-2zm1 0h2v2h-2zm1 0h2v2h-2zm1 0h2v2h-2zm1 0h2v2h-2zm1 0h2v2h-2zm1 0h2v2h-2zm1 0h2v2h-2zm1 0h2v2h-2zm1 0h2v2h-2zm1 0h2v2h-2zm1 0h2v2h-2zm1 0h2v2h-2zm1 0h2v2h-2zm1 0h2v2h-2zm1 0h2v2h-2zm1 0h2v2h-2zm1 1h2v2h-2zm1 0h2v2h-2zm1 1h2v2h-2zm1 1h2v2h-2zm1 1h2v2h-2zm1 0h2v2h-2zm1 1h2v2h-2z" fill="#1e90ff" shape-rendering="crispEdges"/>
<path d="M3 438h1v1h-1zm1 0h1v1h-1zm1 0h1v1h-1zm1 0h1v1h-1zm1 0h1v1h-1zm1 1h1v1h-1zm1 0h1v1h-1zm1 0h1v1h-1zm1 0h1v1h-1zm1 0h1v1h-1zm1 -1h1v1h-1zm1 0h1v1h-1zm1 -1h1v1h-1zm1 0h1v1h-1zm1 -1h1v1h-1zm1 0h1v1h-1zm1 -1h1v1h-1zm1 0h1v1h-1zm1 -1h1v1h-1zm1 0h1v1h-1zm1 -1h1v1h-1zm1 0h1v1h-1zm1 -1h1v1h-1zm1 0h1v1h-1zm1 -1h1v1h-1zm1 0h1v1h-1zm1 0h1v1h-1zm1 0h1v1h-1zm1 0h1v1h-1zm1 1h1v1h-1zm1 0h1v1h-1zm1 0h1v1h-1zm1 0h1v1h-1zm1 0h1v1h-1zm1 -1h1v1h-1zm1 0h1v1h-1zm1 0h1v1h-1zm1 -1h1v1h-1zm1 0h1v1h-1zm1 -1h1v1h-1zm1 0h1v1h-1zm1 0h1v1h-1zm1 1h1v1h-1zm1 0h1v1h-1zm1 1h1v1h-1zm1 0h1v1h-1zm1 1h1v1h-1zm1 0h1v1h-1zm1 1h1v1h-1zm1 0h1v1h-1zm1 -1h1v1h-1zm1 0h1v1h-1zm1 0h1v1h-1zm1 -1h1v1h-1zm1 0h1v1h-1zm1 -1h1v1h-1zm1 0h1v1h-1zm1 0h1v1h-1zm1 0h1v1h-1zm1 0h1v1h-1zm1 0h1v1h-1zm1 -1h1v1h-1zm1 0h1v1h-1zm1 0h1v1h-1zm1 0h1v1h-1zm1 0h1v1h-1zm1 0h1v1h-1zm1 -1h1v1h-1zm1 0h1v1h-1zm1 0h1v1h-1zm1 0h1v1h-1zm1 -1h1v1h-1zm1 0h1v1h-1zm1 0h1v1h-1zm1 0h1v1h-1zm1 -1h1v1h-1zm1 0h1v1h-1zm1 0h1v1h-1zm1 0h1v1h-1zm1 -1h1v1h-1zm1 0h1v1h-1zm1 0h1v1h-1zm1 1h1v1h-1zm1 0h1v1h-1zm1 0h1v1h-1zm1 1h1v1h-1zm1 0h1v1h-1zm1 1h1v1h-1zm1 0h1v1h-1zm1 0h1v1h-1zm1 1h1v1h-1zm1 0h1v1h-1zm1 0h1v1h-1zm1 1h1v1h-1zm1 0h1v1h-1zm1 1h1v1h-1zm1 0h1v1h-1zm1 0h1v1h-1zm1 0h1v1h-1zm1 0h1v1h-1zm1 0h1v1h-1zm1 1h1v1h-1zm1 0h1v1h-1zm1 0h1v1h-1zm1 0h1v1h-1zm1 0h1v1h-1zm1 0h1v1h-1zm1 0h1v1h-1zm1 0h1v1h-1zm1 1h1v1h-1zm1 0h1v1h-1zm1 0h1v1h-1zm1 0h1v1h-1zm1 0h1v1h-1zm1 0h1v1h-1zm1 0h1v1h-1zm1 0h1v1h-1zm1 0h1v1h-1zm1 0h1v1h-1zm1 0h1v1h-1zm1 0h1v1h-1zm1 0h1v1h-1zm1 0h1v1h-1zm1 0h1v1h-1zm1 0h1v1h-1zm1 1h1v1h-1zm1 0h1v1h-1zm1 0h1v1h-1zm1 0h1v1h-1zm1 -1h1v1h-1zm1 0h1v1h-1zm1 -1h1v1h-1zm1 0h1v1h-1zm1 -1h1v1h-1zm1 -1h1v1h-1zm1 0h1v1h-1zm1 -1h1v1h-1zm1 0h1v1h-1zm1 0h1v1h-1zm1 0h1v1h-1zm1 0h1v1h-1zm1 -1h1v1h-1zm1 0h1v1h-1zm1 0h1v1h-1zm1 0h1v1h-1zm1 0h1v1h-1zm1 0h1v1h-1zm1 0h1v1h-1zm1 0h1v1h-1zm1 0h1v1h-1zm1 0h1v1h-1zm1 0h1v1h-1zm1 0h1v1h-1zm1 0h1v1h-1zm1 0h1v1h-1zm1 -1h1v1h-1zm1 0h1v1h-1zm1 0h1v1h-1zm1 0h1v1h-1zm1 -1h1v1h-1zm1 0h1v1h-1zm1 0h1v1h-1zm1 0h1v1h-1zm1 -1h1v1h-1zm1 0h1v1h-1zm1 0h1v1h-1zm1 0h1v1h-1zm1 -1h1v1h-1zm1 0h1v1h-1zm1 0h1v1h-1zm1 -1h1v1h-1zm1 0h1v1h-1zm1 0h1v1h-1zm1 -1h1v1h-1zm1 0h1v1h-1zm1 -1h1v1h-1zm1 0h1v1h-1zm1 0h1v1h-1zm1 1h1v1h-1zm1 0h1v1h-1zm1 0h1v1h-1zm1 1h1v1h-1zm1 0h1v1h-1zm1 1h1v1h-1zm1 0h1v1h-1zm1 0h1v1h-1zm1 0h1v1h-1zm1 0h1v1h-1zm1 0h1v1h-1zm1 1h1v1h-1zm1 0h1v1h-1zm1 0h1v1h-1zm1 0h1v1h-1zm1 0h1v1h-1zm1 0h1v1h-1zm1 0h1v1h-1zm1 0h1v1h-1zm1 0h1v1h-1zm1 0h1v1h-1zm1 0h1v1h-1zm1 0h1v1h-1zm1 0h1v1h-1zm1 0h1v1h-1zm1 -1h1v1h-1zm1 0h1v1h-1zm1 0h1v1h-1zm1 0h1v1h-1zm1 -1h1v1h-1zm1 0h1v1h-1zm1 0h1v1h-1zm1 0h1v1h-1zm1 0h1v1h-1zm1 0h1v1h-1zm1 1h1v1h-1zm1 0h1v1h-1zm1 0h1v1h-1zm1 0h1v1h-1zm1 0h1v1h-1zm1 -1h1v1h-1zm1 0h1v1h-1zm1 -1h1v1h-1zm1 0h1v1h-1zm1 -1h1v1h-1zm1 0h1v1h-1zm1 -1h1v1h-1zm1 0h1v1h-1zm1 0h1v1h-1zm1 -1h1v1h-1zm1 0h1v1h-1zm1 0h1v1h-1zm1 0h1v1h-1zm1 -1h1v1h-1zm1 0h1v1h-1zm1 1h1v1h-1zm1 0h1v1h-1zm1 1h1v1h-1zm1 0h1v1h-1zm1 1h1v1h-1zm1 1h1v1h-1zm1 0h1v1h-1zm1 1h1v1h-1zm1 0h1v1h-1zm1 -1h1v1h-1zm1 0h1v1h-1zm1 0h1v1h-1zm1 -1h1v1h-1zm1 0h1v1h-1zm1 -1h1v1h-1zm1 0h1v1h-1zm1 0h1v1h-1zm1 0h1v1h-1zm1 1h1v1h-1zm1 0h1v1h-1zm1 0h1v1h-1zm1 0h1v1h-1zm1 1h1v1h-1zm1 0h1v1h-1zm1 0h1v1h-1zm1 0h1v1h-1zm1 -1h1v1h-1zm1 0h1v1h-1zm1 0h1v1h-1zm1 0h1v1h-1zm1 -1h1v1h-1zm1 0h1v1h-1zm1 1h1v1h-1zm1 0h1v1h-1zm1 1h1v1h-1zm1 0h1v1h-1zm1 1h1v1h-1zm1 1h1v1h-1zm1 0h1v1h-1zm1 1h1v1h-1zm1 0h1v1h-1zm1 0h1v1h-1zm1 0h1v1h-1zm1 0h1v1h-1zm1 -1h1v1h-1zm1 0h1v1h-1zm1 0h1v1h-1zm1 0h1v1h-1zm1 0h1v1h-1zm1 0h1v1h-1zm1 1h1v1h-1zm1 0h1v1h-1zm1 0h1v1h-1zm1 0h1v1h-1zm1 1h1v1h-1zm1 0h1v1h-1zm1 0h1v1h-1zm1 0h1v1h-1zm1 0h1v1h-1zm1 0h1v1h-1zm1 0h1v1h-1zm1 0h1v1h-1zm1 0h1v1h-1zm1 0h1v1h-1zm1 0h1v1h-1zm1 -1h1v1h-1zm1 0h1v1h-1zm1 -1h1v1h-1zm1 0h1v1h-1zm1 -1h1v1h-1zm1 0h1v1h-1zm1 -1h1v1h-1zm1 0h1v1h-1zm1 0h1v1h-1zm1 0h1v1h-1zm1 0h1v1h-1zm1 1h1v1h-1zm1 0h1v1h-1zm1 0h1v1h-1zm1 0h1v1h-1zm1 0h1v1h-1zm1 0h1v1h-1zm1 1h1v1h-1zm1 0h1v1h-1zm1 0h1v1h-1zm1 0h1v1h-1zm1 1h1v1h-1zm1 0h1v1h-1zm1 0h1v1h-1zm1 0h1v1h-1zm1 0h1v1h-1zm1 0h1v1h-1zm1 0h1v1h-1zm1 0h1v1h-1zm1 0h1v1h-1zm1 0h1v1h-1zm1 0h1v1h-1zm1 1h1v1h-1zm1 0h1v1h-1zm1 1h1v1h-1zm1 0h1v1h-1zm1 1h1v1h-1zm1 0h1v1h-1zm1 1h1v1h-1zm1 1h1v1h-1zm1 1h1v1h-1zm1 1h1v1h-1zm1 1h1v1h-1zm1 1h1v1h-1zm1 1h1v1h-1zm1 1h1v1h-1zm1 1h1v1h-1zm1 0h1v1h-1zm1 0h1v1h-1zm1 0h1v1h-1zm1 0h1v1h-1zm1 -1h1v1h-1zm1 0h1v1h-1zm1 0h1v1h-1zm1 0h1v1h-1zm1 0h1v1h-1zm1 0h1v1h-1zm1 0h1v1h-1zm1 0h1v1h-1zm1 0h1v1h-1zm1 0h1v1h-1zm1 0h1v1h-1zm1 0h1v1h-1zm1 0h1v1h-1zm1 0h1v1h-1zm1 -1h1v1h-1zm1 0h1v1h-1zm1 0h1v1h-1zm1 0h1v1h-1zm1 -1h1v1h-1zm1 0h1v1h-1zm1 0h1v1h-1zm1 0h1v1h-1zm1 0h1v1h-1zm1 0h1v1h-1zm1 0h1v1h-1zm1 0h1v1h-1zm1 0h1v1h-1zm1 0h1v1h-1zm1 0h1v1h-1zm1 0h1v1h-1zm1 1h1v1h-1zm1 0h1v1h-1zm1 0h1v1h-1zm1 0h1v1h-1zm1 1h1v1h-1zm1 0h1v1h-1zm1 0h1v1h-1zm1 -1h1v1h-1zm1 0h1v1h-1zm1 -1h1v1h-1zm1 0h1v1h-1zm1 -1h1v1h-1zm1 0h1v1h-1zm1 -1h1v1h-1zm1 0h1v1h-1zm1 0h1v1h-1zm1 0h1v1h-1zm1 0h1v1h-1zm1 -1h1v1h-1zm1 0h1v1h-1zm1 0h1v1h-1zm1 0h1v1h-1zm1 0h1v1h-1zm1 0h1v1h-1zm1 0h1v1h-1zm1 0h1v1h-1zm1 -1h1v1h-1zm1 0h1v1h-1zm1 0h1v1h-1zm1 0h1v1h-1zm1 0h1v1h-1zm1 0h1v1h-1zm1 0h1v1h-1zm1 0h1v1h-1zm1 1h1v1h-1zm1 0h1v1h-1zm1 0h1v1h-1zm1 0h1v1h-1zm1 0h1v1h-1zm1 0h1v1h-1zm1 0h1v1h-1zm1 0h1v1h-1zm1 -1h1v1h-1zm1 0h1v1h-1zm1 0h1v1h-1zm1 0h1v1h-1zm1 0h1v1h-1zm1 0h1v1h-1zm1 0h1v1h-1zm1 0h1v1h-1zm1 0h1v1h-1zm1 0h1v1h-1zm1 0h1v1h-1zm1 0h1v1h-1zm1 -1h1v1h-1zm1 0h1v1h-1zm1 -1h1v1h-1zm1 0h1v1h-1zm1 -1h1v1h-1zm1 -1h1v1h-1zm1 0h1v1h-1zm1 -1h1v1h-1zm1 0h1v1h-1zm1 0h1v1h-1zm1 0h1v1h-1zm1 0h1v1h-1zm1 1h1v1h-1zm1 0h1v1h-1zm1 0h1v1h-1zm1 0h1v1h-1zm1 0h1v1h-1zm1 0h1v1h-1zm1 0h1v1h-1zm1 0h1v1h-1zm1 -1h1v1h-1zm1 0h1v1h-1zm1 0h1v1h-1zm1 0h1v1h-1zm1 0h1v1h-1zm1 0h1v1h-1zm1 1h1v1h-1zm1 0h1v1h-1zm1 0h1v1h-1zm1 0h1v1h-1zm1 1h1v1h-1zm1 0h1v1h-1zm1 0h1v1h-1zm1 0h1v1h-1zm1 0h1v1h-1zm1 0h1v1h-1zm1 -1h1v1h-1zm1 0h1v1h-1zm1 0h1v1h-1zm1 0h1v1h-1zm1 0h1v1h-1zm1 0h1v1h-1zm1 1h1v1h-1zm1 0h1v1h-1zm1 0h1v1h-1zm1 0h1v1h-1zm1 1h1v1h-1zm1 0h1v1h-1zm1 0h1v1h-1zm1 0h1v1h-1zm1 1h1v1h-1zm1 0h1v1h-1zm1 0h1v1h-1zm1 0h1v1h-1zm1 1h1v1h-1zm1 0h1v1h-1zm1 -1h1v1h-1zm1 -1h1v1h-1zm1 -1h1v1h-1zm1 0h1v1h-1zm1 -1h1v1h-1zm1 -1h1v1h-1zm1 -1h1v1h-1zm1 -1h1v1h-1zm1 0h1v1h-1zm1 0h1v1h-1zm1 0h1v1h-1zm1 0h1v1h-1zm1 -1h1v1h-1zm1 0h1v1h-1zm1 0h1v1h-1zm1 0h1v1h-1zm1 0h1v1h-1zm1 0h1v1h-1zm1 0h1v1h-1zm1 0h1v1h-1zm1 1h1v1h-1zm1 0h1v1h-1zm1 0h1v1h-1zm1 0h1v1h-1zm1 0h1v1h-1zm1 0h1v1h-1zm1 1h1v1h-1zm1 0h1v1h-1zm1 0h1v1h-1zm1 0h1v1h-1zm1 1h1v1h-1zm1 0h1v1h-1zm1 0h1v1h-1zm1 1h1v1h-1zm1 0h1v1h-1zm1 0h1v1h-1zm1 1h1v1h-1zm1 0h1v1h-1zm1 1h1v1h-1zm1 0h1v1h-1zm1 0h1v1h-1zm1 0h1v1h-1zm1 0h1v1h-1zm1 0h1v1h-1zm1 -1h1v1h-1zm1 0h1v1h-1zm1 0h1v1h-1zm1 0h1v1h-1zm1 0h1v1h-1zm1 0h1v1h-1zm1 0h1v1h-1zm1 0h1v1h-1zm1 -1h1v1h-1zm1 0h1v1h-1zm1 0h1v1h-1zm1 0h1v1h-1zm1 0h1v1h-1zm1 0h1v1h-1zm1 0h1v1h-1zm1 0h1v1h-1zm1 0h1v1h-1zm1 0h1v1h-1zm1 0h1v1h-1z" fill="#1e90ff" shape-rendering="crispEdges"/>
<g stroke="#c0c0c0" stroke-width="1" stroke-dasharray="3,3" shape-rendering="crispEdges">
<line x1="4" y1="366.5" x2="607" y2="366.5"/>
<line x1="4" y1="416.5" x2="607" y2="416.5"/>
<line x1="4" y1="440.5" x2="607" y2="440.5"/>
</g>
<g fill="#9400d3" shape-rendering="crispEdges"><rect x="539" y="3" width="17" height="1"/><rect x="547" y="4" width="9" height="1"/></g>
<rect x="609" y="102" width="41" height="11" fill="#000" shape-rendering="crispEdges"/>
<path d="M6 9h7l-3.5 4z" fill="#000"/>
<text x="19" y="14" font-size="9.8" textLength="55" lengthAdjust="spacingAndGlyphs">AUDUSD,H4</text>
<text x="80.3" y="14" font-size="9.8" textLength="141.2" lengthAdjust="spacingAndGlyphs">0.74549 0.74589 0.74441 0.74540</text>
<text x="613" y="37" font-size="9.8" textLength="33" lengthAdjust="spacingAndGlyphs">0.74910</text>
<text x="613" y="70" font-size="9.8" textLength="33" lengthAdjust="spacingAndGlyphs">0.74745</text>
<text x="613" y="103" font-size="9.8" textLength="33" lengthAdjust="spacingAndGlyphs">0.74580</text>
<text x="613" y="136" font-size="9.8" textLength="33" lengthAdjust="spacingAndGlyphs">0.74415</text>
<text x="613" y="169" font-size="9.8" textLength="33" lengthAdjust="spacingAndGlyphs">0.74250</text>
<text x="613" y="202" font-size="9.8" textLength="33" lengthAdjust="spacingAndGlyphs">0.74085</text>
<text x="613" y="235" font-size="9.8" textLength="33" lengthAdjust="spacingAndGlyphs">0.73920</text>
<text x="613" y="268" font-size="9.8" textLength="33" lengthAdjust="spacingAndGlyphs">0.73755</text>
<text x="613" y="301" font-size="9.8" textLength="33" lengthAdjust="spacingAndGlyphs">0.73590</text>
<text x="613" y="334" font-size="9.8" textLength="33" lengthAdjust="spacingAndGlyphs">0.73425</text>
<text x="614" y="111" font-size="9.8" textLength="32" lengthAdjust="spacingAndGlyphs" style="fill:#fff;stroke:#fff">0.74540</text>
<text x="588" y="114.5" font-size="9.8" textLength="18" lengthAdjust="spacingAndGlyphs">38.2</text>
<text x="7" y="348" font-size="9.8" textLength="63.5" lengthAdjust="spacingAndGlyphs">Momentum(14)</text>
<text x="73" y="348" font-size="9.8" textLength="37.8" lengthAdjust="spacingAndGlyphs">100.1021</text>
<text x="7" y="410" font-size="9.8" textLength="68" lengthAdjust="spacingAndGlyphs">RSI(14) 53.5090</text>
<text x="611" y="346" font-size="9.8" textLength="24" lengthAdjust="spacingAndGlyphs">101.7</text>
<text x="611" y="370" font-size="9.8" textLength="14.5" lengthAdjust="spacingAndGlyphs">100</text>
<text x="611" y="392" font-size="9.8" textLength="33" lengthAdjust="spacingAndGlyphs">98.3024</text>
<text x="611" y="407.8" font-size="9.8" textLength="14.5" lengthAdjust="spacingAndGlyphs">100</text>
<text x="611" y="419.8" font-size="9.8" textLength="9.4" lengthAdjust="spacingAndGlyphs">70</text>
<text x="611" y="443.8" font-size="9.8" textLength="9.4" lengthAdjust="spacingAndGlyphs">30</text>
<text x="611" y="455.7" font-size="9.8" textLength="4.9" lengthAdjust="spacingAndGlyphs">0</text>
<text x="2.2" y="472" font-size="9.8" textLength="53.8" lengthAdjust="spacingAndGlyphs">21 Nov 2016</text>
<text x="66.2" y="472" font-size="9.8" textLength="57" lengthAdjust="spacingAndGlyphs">22 Nov 20:00</text>
<text x="130.2" y="472" font-size="9.8" textLength="57" lengthAdjust="spacingAndGlyphs">24 Nov 04:00</text>
<text x="194.2" y="472" font-size="9.8" textLength="57" lengthAdjust="spacingAndGlyphs">25 Nov 12:00</text>
<text x="258.2" y="472" font-size="9.8" textLength="57" lengthAdjust="spacingAndGlyphs">28 Nov 16:00</text>
<text x="322.2" y="472" font-size="9.8" textLength="57" lengthAdjust="spacingAndGlyphs">30 Nov 00:00</text>
<text x="386.2" y="472" font-size="9.8" textLength="49.7" lengthAdjust="spacingAndGlyphs">1 Dec 08:00</text>
<text x="450.2" y="472" font-size="9.8" textLength="49.7" lengthAdjust="spacingAndGlyphs">2 Dec 16:00</text>
<text x="514.2" y="472" font-size="9.8" textLength="49.7" lengthAdjust="spacingAndGlyphs">5 Dec 20:00</text>
</svg>
</body></html>
